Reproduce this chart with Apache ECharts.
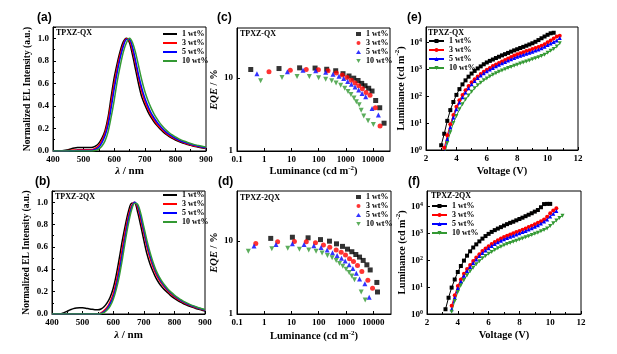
<!DOCTYPE html>
<html>
<head>
<meta charset="utf-8">
<script src="https://cdn.jsdelivr.net/npm/echarts@6.0.0/dist/echarts.min.js"></script>
<style>
  html, body { margin: 0; padding: 0; background: #fff; }
  #chart { width: 617px; height: 354px; }
</style>
</head>
<body>
<div id="chart"></div>
<script>
const SERIF = '"Liberation Serif", "Times New Roman", serif'
const SANS = '"Liberation Sans", Arial, sans-serif'

const wtLabels = ['1 wt%', '3 wt%', '5 wt%', '10 wt%']
const colors = ['#000000', '#ff0000', '#0000ff', '#339933']
const markers = ['rect', 'circle', 'triangle', 'path://M0,0L10,0L5,9Z']

// ---- (a)/(b) EL spectra, sampled every 10 nm ----
const wavelength = [400, 410, 420, 430, 440, 450, 460, 470, 480, 490, 500, 510, 520, 530, 540, 550, 560, 570, 580, 590,
  600, 610, 620, 630, 640, 650, 660, 670, 680, 690, 700, 710, 720, 730, 740, 750, 760, 770, 780, 790,
  800, 810, 820, 830, 840, 850, 860, 870, 880, 890, 900]

const elA1 = [0, 0, 0, 0.002, 0.006, 0.012, 0.02, 0.026, 0.03, 0.031, 0.031, 0.03, 0.03, 0.033, 0.045, 0.07, 0.115, 0.18, 0.3, 0.48,
  0.65, 0.78, 0.89, 0.97, 1.0, 0.96, 0.85, 0.72, 0.59, 0.48, 0.41, 0.35, 0.3, 0.26, 0.225, 0.195, 0.17, 0.148, 0.128, 0.112,
  0.098, 0.086, 0.075, 0.066, 0.058, 0.05, 0.043, 0.037, 0.032, 0.027, 0.022]
const elA3 = [0, 0, 0, 0, 0.002, 0.004, 0.007, 0.009, 0.01, 0.011, 0.011, 0.011, 0.011, 0.014, 0.027, 0.052, 0.095, 0.16, 0.27, 0.43,
  0.6, 0.74, 0.86, 0.95, 0.995, 0.98, 0.89, 0.77, 0.64, 0.53, 0.44, 0.375, 0.32, 0.275, 0.238, 0.207, 0.18, 0.157, 0.137, 0.12,
  0.105, 0.092, 0.081, 0.071, 0.062, 0.054, 0.047, 0.041, 0.035, 0.03, 0.025]
const elA5 = [0, 0, 0, 0, 0, 0.001, 0.002, 0.003, 0.004, 0.005, 0.005, 0.005, 0.005, 0.007, 0.016, 0.036, 0.075, 0.135, 0.23, 0.38,
  0.55, 0.7, 0.83, 0.93, 0.99, 0.99, 0.92, 0.8, 0.67, 0.56, 0.47, 0.4, 0.34, 0.295, 0.255, 0.222, 0.193, 0.168, 0.147, 0.129,
  0.113, 0.099, 0.087, 0.077, 0.068, 0.06, 0.052, 0.046, 0.04, 0.034, 0.029]
const elA10 = [0, 0, 0, 0, 0, 0, 0, 0, 0, 0, 0, 0, 0, 0, 0.006, 0.018, 0.045, 0.09, 0.17, 0.3,
  0.45, 0.62, 0.76, 0.88, 0.96, 1.0, 0.96, 0.87, 0.75, 0.63, 0.53, 0.45, 0.385, 0.33, 0.285, 0.245, 0.213, 0.185, 0.162, 0.142,
  0.125, 0.11, 0.097, 0.086, 0.076, 0.067, 0.059, 0.052, 0.046, 0.04, 0.035]

const elB1 = [0, 0, 0, 0.003, 0.012, 0.025, 0.038, 0.048, 0.054, 0.056, 0.055, 0.052, 0.047, 0.042, 0.038, 0.037, 0.045, 0.065, 0.1, 0.15,
  0.23, 0.35, 0.5, 0.66, 0.8, 0.92, 0.99, 0.99, 0.91, 0.79, 0.66, 0.54, 0.45, 0.38, 0.32, 0.275, 0.24, 0.21, 0.185, 0.16,
  0.14, 0.122, 0.106, 0.092, 0.08, 0.069, 0.059, 0.05, 0.042, 0.034, 0.027]
const elB3 = [0, 0, 0, 0, 0, 0, 0, 0, 0, 0, 0, 0, 0, 0, 0, 0, 0.01, 0.03, 0.06, 0.11,
  0.18, 0.29, 0.43, 0.59, 0.75, 0.88, 0.97, 1.0, 0.95, 0.84, 0.72, 0.6, 0.5, 0.42, 0.355, 0.305, 0.265, 0.23, 0.2, 0.175,
  0.153, 0.134, 0.117, 0.102, 0.089, 0.077, 0.066, 0.056, 0.048, 0.04, 0.033]
const elB5 = [0, 0, 0, 0, 0, 0, 0, 0, 0, 0, 0, 0, 0, 0, 0, 0, 0.005, 0.02, 0.045, 0.09,
  0.15, 0.25, 0.38, 0.54, 0.7, 0.85, 0.95, 1.0, 0.97, 0.87, 0.75, 0.63, 0.53, 0.445, 0.375, 0.32, 0.278, 0.242, 0.211, 0.185,
  0.162, 0.142, 0.124, 0.108, 0.094, 0.082, 0.071, 0.061, 0.052, 0.044, 0.036]
const elB10 = [0, 0, 0, 0, 0, 0, 0, 0, 0, 0, 0, 0, 0, 0, 0, 0, 0.003, 0.012, 0.035, 0.07,
  0.13, 0.22, 0.34, 0.49, 0.66, 0.81, 0.93, 0.99, 0.98, 0.9, 0.78, 0.66, 0.555, 0.465, 0.39, 0.335, 0.29, 0.252, 0.22, 0.193,
  0.169, 0.148, 0.13, 0.113, 0.099, 0.086, 0.075, 0.065, 0.056, 0.047, 0.04]

// ---- (c)/(d) EQE vs luminance ----
const lumC1 = [0.32, 3.5, 20, 74, 198, 424, 788, 1310, 1950, 2810, 3830, 5080, 6920, 9180, 12500, 17600, 25400]
const eqeC1 = [13.0, 13.4, 13.7, 13.6, 13.1, 12.5, 11.4, 10.6, 9.9, 9.2, 8.4, 7.8, 7.2, 6.6, 4.9, 3.9, 2.4]
const lumC3 = [1.5, 9.1, 35, 98, 222, 449, 746, 1107, 1597, 2178, 2970, 4050, 5530, 7760, 12200, 18100]
const eqeC3 = [12.1, 12.7, 13.0, 12.9, 12.5, 11.6, 10.9, 10.1, 9.3, 8.5, 7.8, 7.1, 6.3, 5.8, 3.9, 2.2]
const lumC5 = [0.54, 7.1, 26.7, 78, 182, 338, 562, 835, 1172, 1597, 2178, 2970, 3940, 5370, 9180, 15700]
const eqeC5 = [11.4, 12.1, 12.7, 12.5, 11.9, 11.2, 10.5, 9.8, 8.9, 8.2, 7.5, 6.8, 6.1, 5.5, 3.8, 3.1]
const lumC10 = [0.74, 4.5, 16.1, 45.6, 100, 182, 302, 437, 646, 912, 1200, 1540, 2000, 2440, 3100, 3660, 4560, 6550, 10300]
const eqeC10 = [9.1, 10.1, 10.4, 10.4, 10.0, 9.6, 9.1, 8.5, 7.9, 7.2, 6.5, 5.9, 5.3, 4.7, 4.3, 3.6, 3.0, 2.6, 2.3]

const lumD1 = [1.73, 10.8, 40.7, 116, 248, 449, 746, 1140, 1644, 2300, 3150, 4290, 5850, 7760, 13600, 14400]
const eqeD1 = [10.8, 11.2, 11.0, 10.4, 9.9, 9.1, 8.4, 7.7, 7.1, 6.5, 6.0, 5.4, 4.7, 4.0, 2.7, 2.0]
const lumD3 = [0.49, 3.1, 12.8, 35, 76, 149, 255, 437, 667, 962, 1349, 1890, 2650, 3830, 6370, 9450]
const eqeD3 = [9.2, 9.7, 9.8, 9.7, 9.4, 8.8, 8.2, 7.5, 7.0, 6.4, 5.7, 5.2, 4.6, 3.8, 2.9, 2.25]
const lumD5 = [0.42, 2.7, 10.8, 29, 66, 122, 204, 320, 474, 685, 935, 1310, 1790, 2400, 3150, 4940, 7130]
const eqeD5 = [8.5, 8.9, 9.1, 8.9, 8.6, 8.1, 7.5, 6.9, 6.3, 5.8, 5.3, 4.7, 4.2, 3.6, 3.0, 2.6, 1.7]
const lumD10 = [0.26, 1.9, 7.3, 19.6, 43, 80, 133, 209, 311, 437, 578, 767, 1016, 1310, 1644, 2060, 3620, 5080]
const eqeD10 = [7.2, 7.8, 7.9, 7.7, 7.5, 7.2, 6.8, 6.3, 5.85, 5.4, 4.9, 4.5, 4.1, 3.7, 3.3, 2.95, 2.0, 1.55]

// ---- (e)/(f) luminance vs voltage, null = not measured ----
const voltsE = [3.0, 3.2, 3.4, 3.6, 3.8, 4.0, 4.2, 4.4, 4.6, 4.8, 5.0, 5.2, 5.4, 5.6, 5.8, 6.0, 6.2, 6.4, 6.6, 6.8,
  7.0, 7.2, 7.4, 7.6, 7.8, 8.0, 8.2, 8.4, 8.6, 8.8, 9.0, 9.2, 9.4, 9.6, 9.8, 10.0, 10.2, 10.4, 10.6, 10.8]
const lumE1 = [1.5, 4, 12, 30, 60, 110, 180, 270, 380, 520, 680, 850, 1050, 1250, 1500, 1750, 2000, 2250, 2550, 2850,
  3200, 3550, 3950, 4400, 4900, 5400, 6000, 6600, 7300, 8100, 9000, 10200, 11800, 13800, 16000, 18500, 21000, 22000, null, null]
const lumE3 = [null, 1.2, 3.5, 9, 20, 40, 70, 110, 165, 235, 320, 420, 530, 650, 790, 940, 1100, 1280, 1470, 1680,
  1900, 2150, 2450, 2800, 3150, 3500, 3850, 4200, 4600, 5000, 5500, 6000, 6600, 7300, 8300, 9800, 11500, 13500, 16000, 17000]
const lumE5 = [null, 0.8, 2.5, 7, 16, 32, 57, 90, 135, 195, 270, 360, 460, 570, 690, 820, 960, 1100, 1260, 1430,
  1620, 1820, 2050, 2300, 2550, 2850, 3100, 3400, 3700, 4000, 4400, 4800, 5300, 5900, 6700, 7700, 8800, 10000, 11500, 14000]
const lumE10 = [null, 0.6, 1.8, 4.5, 10, 18, 32, 50, 75, 105, 145, 195, 250, 310, 380, 450, 530, 610, 700, 790,
  880, 980, 1080, 1200, 1320, 1450, 1600, 1750, 1900, 2080, 2280, 2500, 2750, 3050, 3400, 4000, 4700, 5500, 6800, 9000]

const voltsF = [3.2, 3.4, 3.6, 3.8, 4.0, 4.2, 4.4, 4.6, 4.8, 5.0, 5.2, 5.4, 5.6, 5.8, 6.0, 6.2, 6.4, 6.6, 6.8, 7.0,
  7.2, 7.4, 7.6, 7.8, 8.0, 8.2, 8.4, 8.6, 8.8, 9.0, 9.2, 9.4, 9.6, 9.8, 10.0, 10.2, 10.4, 10.6, 10.8]
const lumF1 = [1.5, 4, 9.5, 19, 36, 60, 95, 145, 210, 290, 380, 490, 620, 770, 930, 1100, 1280, 1460, 1650, 1880,
  2130, 2380, 2620, 2950, 3300, 3700, 4200, 4750, 5400, 6200, 7100, 9000, 11800, 12000, 12000, null, null, null, null]
const lumF3 = [null, null, 2, 5, 11, 19, 31, 46, 65, 92, 125, 165, 215, 265, 320, 390, 460, 540, 620, 710,
  800, 880, 970, 1080, 1190, 1330, 1480, 1660, 1870, 2120, 2410, 2750, 3200, 4000, 5400, 6800, 8200, null, null]
const lumF5 = [null, null, 1.5, 4, 9, 16, 26, 39, 55, 78, 105, 140, 180, 225, 275, 330, 390, 455, 520, 590,
  660, 730, 800, 880, 970, 1080, 1200, 1340, 1500, 1700, 1950, 2250, 2650, 3200, 4100, 5200, 6500, null, null]
const lumF10 = [null, null, 1.2, 3, 6.5, 11.5, 18, 27, 38, 52, 70, 90, 115, 140, 170, 200, 235, 270, 310, 350,
  390, 430, 475, 520, 570, 625, 690, 760, 840, 930, 1030, 1150, 1300, 1480, 1800, 2300, 2900, 3600, 4400]

// ---- layout ----
const grids = [
  { left: 53, top: 27, width: 153, height: 124 },   // a
  { left: 52, top: 191, width: 153, height: 123 },  // b
  { left: 237, top: 28, width: 153, height: 123 },  // c
  { left: 237, top: 191, width: 154, height: 123 }, // d
  { left: 426, top: 27, width: 152, height: 123 },  // e
  { left: 427, top: 191, width: 154, height: 123 }, // f
].map((g) => Object.assign({ show: true, borderColor: '#000', borderWidth: 1, backgroundColor: 'transparent' }, g))

function richFor(size) {
  const base = { fontFamily: SERIF, fontWeight: 'bold', color: '#000', verticalAlign: 'bottom' }
  return {
    n: Object.assign({ fontSize: size }, base),
    i: Object.assign({ fontSize: size, fontStyle: 'italic' }, base),
    sup: Object.assign({ fontSize: Math.round(size * 0.65), padding: [0, 0, Math.round(size * 0.45), 0] }, base),
  }
}

const tickRich = {
  b: { fontFamily: SERIF, fontWeight: 'bold', fontSize: 9, color: '#000', verticalAlign: 'bottom' },
  s: { fontFamily: SERIF, fontWeight: 'bold', fontSize: 6, color: '#000', verticalAlign: 'bottom', padding: [0, 0, 4, 0] },
}

function axis(gridIndex, o) {
  return {
    gridIndex,
    type: o.type,
    min: o.min,
    max: o.max,
    interval: o.interval,
    name: o.name,
    nameLocation: 'middle',
    nameGap: o.nameGap,
    nameTextStyle: { fontFamily: SERIF, fontWeight: 'bold', fontSize: o.nameSize, color: '#000', rich: richFor(o.nameSize) },
    axisLine: { show: true, onZero: false, lineStyle: { color: '#000', width: 1 } },
    axisTick: { show: true, inside: true, length: 3, lineStyle: { color: '#000', width: 1 } },
    minorTick: { show: !!o.minor, splitNumber: 2, length: 2, lineStyle: { color: '#000', width: 1 } },
    splitLine: { show: false },
    axisLabel: {
      margin: 4,
      showMaxLabel: !!o.maxLabel,
      fontFamily: SERIF,
      fontWeight: 'bold',
      fontSize: 9,
      color: '#000',
      formatter: o.fmt,
      rich: tickRich,
    },
  }
}

const fixed1 = (v) => v.toFixed(1)
const plainLog = (v) => String(+v.toPrecision(6))
const powLog = (v) => '{b|10}{s|' + Math.round(Math.log10(v)) + '}'
const lumName = '{n|Luminance (cd m}{sup|-2}{n|)}'

const xAxes = [
  axis(0, { type: 'value', min: 400, max: 900, interval: 100, minor: true, maxLabel: true, name: '{i|λ}{n| / nm}', nameGap: 15, nameSize: 11 }),
  axis(1, { type: 'value', min: 400, max: 900, interval: 100, minor: true, maxLabel: true, name: '{i|λ}{n| / nm}', nameGap: 16, nameSize: 11 }),
  axis(2, { type: 'log', min: 0.1, max: 42000, fmt: plainLog, name: lumName, nameGap: 14, nameSize: 10.5 }),
  axis(3, { type: 'log', min: 0.1, max: 45000, fmt: plainLog, name: lumName, nameGap: 16, nameSize: 10.5 }),
  axis(4, { type: 'value', min: 2, max: 12, interval: 2, minor: true, maxLabel: true, name: 'Voltage (V)', nameGap: 16, nameSize: 10.5 }),
  axis(5, { type: 'value', min: 2, max: 12, interval: 2, minor: true, maxLabel: true, name: 'Voltage (V)', nameGap: 16, nameSize: 10.5 }),
]
const yAxes = [
  axis(0, { type: 'value', min: 0, max: 1.1, interval: 0.2, minor: true, fmt: fixed1, name: 'Normalized EL Intensity (a.u.)', nameGap: 20, nameSize: 9.5 }),
  axis(1, { type: 'value', min: 0, max: 1.1, interval: 0.2, minor: true, fmt: fixed1, name: 'Normalized EL Intensity (a.u.)', nameGap: 20, nameSize: 9.5 }),
  axis(2, { type: 'log', min: 1, max: 48, fmt: plainLog, name: '{i|EQE}{n| / %}', nameGap: 11, nameSize: 10.5 }),
  axis(3, { type: 'log', min: 1, max: 48, fmt: plainLog, name: '{i|EQE}{n| / %}', nameGap: 12, nameSize: 10.5 }),
  axis(4, { type: 'log', min: 1, max: 36000, fmt: powLog, name: lumName, nameGap: 14, nameSize: 10 }),
  axis(5, { type: 'log', min: 1, max: 36000, fmt: powLog, name: lumName, nameGap: 14, nameSize: 10 }),
]

// ---- series ----
const series = []
const elSets = { a: [elA1, elA3, elA5, elA10], b: [elB1, elB3, elB5, elB10] }
const eqeSets = {
  c: [[lumC1, eqeC1], [lumC3, eqeC3], [lumC5, eqeC5], [lumC10, eqeC10]],
  d: [[lumD1, eqeD1], [lumD3, eqeD3], [lumD5, eqeD5], [lumD10, eqeD10]],
}
const ivlSets = { e: [voltsE, [lumE1, lumE3, lumE5, lumE10]], f: [voltsF, [lumF1, lumF3, lumF5, lumF10]] }

;['a', 'b'].forEach((k, p) => {
  elSets[k].forEach((ys, i) => {
    series.push({
      name: wtLabels[i] + '|' + k,
      type: 'line',
      xAxisIndex: p,
      yAxisIndex: p,
      data: wavelength.map((w, j) => [w, ys[j]]),
      symbol: 'none',
      smooth: 0.3,
      lineStyle: { width: 1.5, color: colors[i] },
      itemStyle: { color: colors[i] },
    })
  })
})

;['c', 'd'].forEach((k, p) => {
  eqeSets[k].forEach(([xs, ys], i) => {
    series.push({
      name: wtLabels[i] + '|' + k,
      type: 'scatter',
      xAxisIndex: 2 + p,
      yAxisIndex: 2 + p,
      data: xs.map((x, j) => [x, ys[j]]),
      symbol: markers[i],
      symbolSize: 5,
      itemStyle: { color: colors[i] },
    })
  })
})

;['e', 'f'].forEach((k, p) => {
  const [volts, sets] = ivlSets[k]
  sets.forEach((ys, i) => {
    series.push({
      name: wtLabels[i] + '|' + k,
      type: 'line',
      xAxisIndex: 4 + p,
      yAxisIndex: 4 + p,
      data: volts.map((v, j) => [v, ys[j]]),
      symbol: markers[i],
      symbolSize: 4,
      lineStyle: { width: 1, color: colors[i] },
      itemStyle: { color: colors[i] },
    })
  })
})

function legend(key, left, top, iw, ih, icon) {
  return {
    left,
    top,
    orient: 'vertical',
    padding: 0,
    itemGap: 1,
    itemWidth: iw,
    itemHeight: ih,
    icon,
    selectedMode: false,
    data: wtLabels.map((w) => w + '|' + key),
    formatter: (n) => n.split('|')[0],
    textStyle: { fontFamily: SERIF, fontWeight: 'bold', fontSize: 8, lineHeight: 8, color: '#000' },
  }
}

const legends = [
  legend('a', 163, 30, 14, 2, 'rect'),
  legend('b', 163, 191, 14, 2, 'rect'),
  legend('c', 356, 30, 5, 4),
  legend('d', 356, 193, 5, 4),
  legend('e', 428, 37, 15, 5),
  legend('f', 431, 202, 15, 5),
]

function txt(text, x, y, font) {
  return { type: 'text', x, y, z: 100, style: { text, font, fill: '#000', verticalAlign: 'middle' } }
}
const panelFont = 'bold 12px ' + SANS
const tagFont = 'bold 8px ' + SERIF

const graphic = [
  txt('(a)', 37, 18, panelFont),
  txt('(b)', 35, 182, panelFont),
  txt('(c)', 217, 18, panelFont),
  txt('(d)', 218, 182, panelFont),
  txt('(e)', 407, 18, panelFont),
  txt('(f)', 408, 182, panelFont),
  txt('TPXZ-QX', 56, 33, tagFont),
  txt('TPXZ-2QX', 55, 197, tagFont),
  txt('TPXZ-QX', 240, 33.5, tagFont),
  txt('TPXZ-2QX', 240, 197.5, tagFont),
  txt('TPXZ-QX', 428, 32.5, tagFont),
  txt('TPXZ-2QX', 431, 195.5, tagFont),
]

const chart = echarts.init(document.getElementById('chart'), null, { renderer: 'canvas' })
chart.setOption({
  backgroundColor: '#fff',
  animation: false,
  grid: grids,
  xAxis: xAxes,
  yAxis: yAxes,
  legend: legends,
  graphic,
  series,
})
</script>
</body>
</html>
